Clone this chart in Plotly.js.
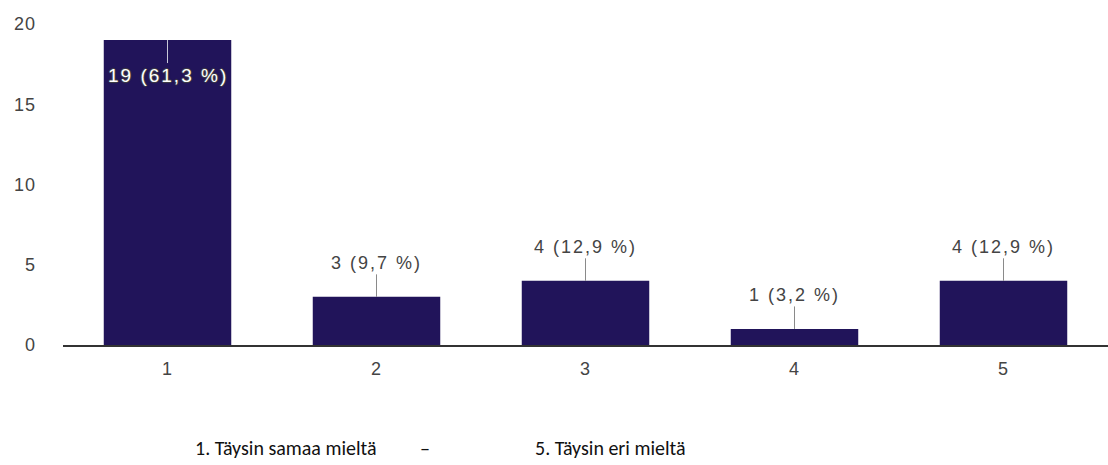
<!DOCTYPE html>
<html><head><meta charset="utf-8">
<script src="https://cdn.plot.ly/plotly-3.0.1.min.js"></script>
<style>
html,body{margin:0;padding:0;background:#fff}#c{width:1108px;height:465px}
#c .xtick text, #c .ytick text{letter-spacing:1px}
#c .annotation.val text{letter-spacing:2px}
</style>
</head><body><div id="c"></div>
<script>
const categories = ['1','2','3','4','5'];
const counts = [19, 3, 4, 1, 4];
const labels = ['19 (61,3 %)','3 (9,7 %)','4 (12,9 %)','1 (3,2 %)','4 (12,9 %)'];
const yTicks = [0,5,10,15,20];
const scaleLeft = '1. Täysin samaa mieltä';
const scaleDash = '–';
const scaleRight = '5. Täysin eri mieltä';

const af = "'Liberation Sans', Arial, sans-serif";
const annotations = categories.map((c,i)=>{
  const inside = counts[i] > 15;
  return {
    x: i, y: counts[i], xref:'x', yref:'y', text: labels[i],
    showarrow:true, arrowhead:0, arrowwidth:1, arrowcolor: inside ? '#c8c8d8' : '#8a8a8a',
    ax:0, ay: inside ? 35 : -34, standoff:0,
    font: inside ? {family:af, size:19, color:'#ffffff',
                    shadow:'1px 0 1px #444, -1px 0 1px #444, 0 1px 1px #444, 0 -1px 1px #444'}
                 : {family:af, size:18, color:'#444'}
  };
});
const sf = {family:'Carlito, Calibri, Lato, sans-serif', size:20, color:'#111'};
const yb = -(448-345)/321;
annotations.push({xref:'paper', yref:'paper', x:(193-63)/1045, y:yb, xanchor:'left', yanchor:'middle', text:scaleLeft, showarrow:false, font:sf});
annotations.push({xref:'paper', yref:'paper', x:(425-63)/1045, y:yb, xanchor:'center', yanchor:'middle', text:scaleDash, showarrow:false, font:sf});
annotations.push({xref:'paper', yref:'paper', x:(533-63)/1045, y:yb, xanchor:'left', yanchor:'middle', text:scaleRight, showarrow:false, font:sf});

Plotly.newPlot('c', [{
  type:'bar', x:categories, y:counts, marker:{color:'#21145a'}, hoverinfo:'none'
}], {
  width:1108, height:465,
  margin:{l:63, r:0, t:24, b:120},
  paper_bgcolor:'#fff', plot_bgcolor:'#fff',
  bargap:0.39, showlegend:false,
  xaxis:{type:'category', showgrid:false, showline:true, linecolor:'#333', linewidth:1.5, zeroline:false,
         ticks:'', ticklabelstandoff:7,
         tickfont:{family:af, size:18, color:'#444'}},
  yaxis:{range:[0,20], tickvals:yTicks, showgrid:false, zeroline:false, showline:false,
         ticks:'', ticklabelstandoff:26,
         tickfont:{family:af, size:18, color:'#444'}},
  annotations: annotations
}, {staticPlot:true}).then(()=>{
  document.querySelectorAll('#c .annotation').forEach((a,i)=>{ if(i<5) a.classList.add('val'); });
});
</script></body></html>
